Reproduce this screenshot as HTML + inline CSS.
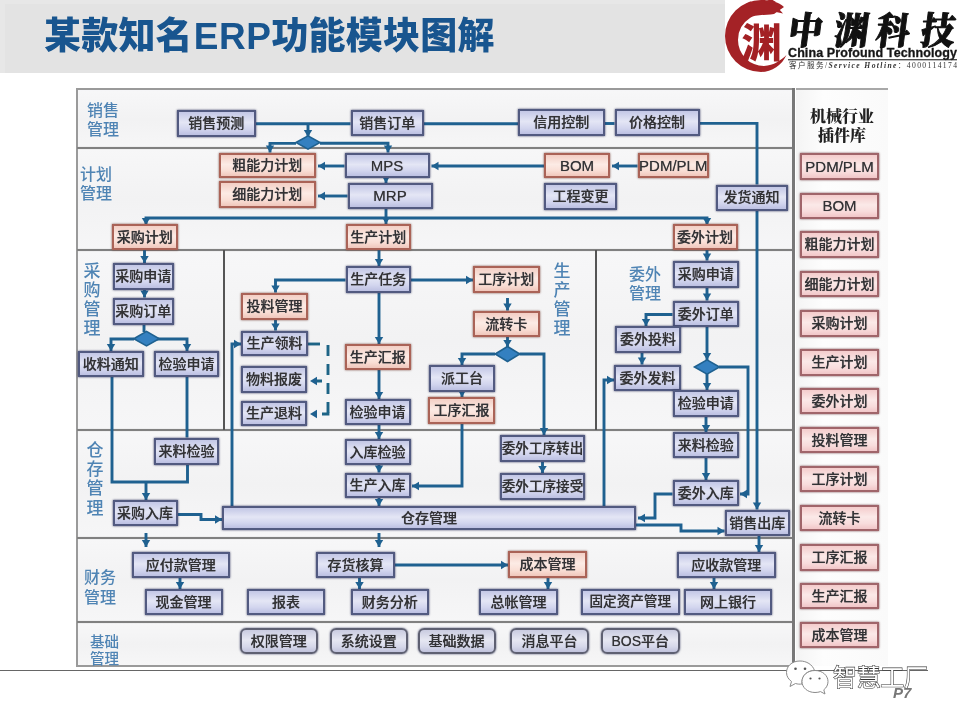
<!DOCTYPE html>
<html lang="zh-CN">
<head>
<meta charset="utf-8">
<title>某款知名ERP功能模块图解</title>
<style>
html,body{margin:0;padding:0;}
body{width:960px;height:720px;position:relative;overflow:hidden;background:#fff;
 font-family:"Liberation Sans","Noto Sans CJK SC",sans-serif;}
.abs{position:absolute;}
#hdr{left:0;top:0;width:724.5px;height:72.5px;background:#e7e7e7;}
#hdr .in{position:absolute;left:5px;top:4px;right:0;bottom:0;background:#e3e3e3;}
#title{left:44px;top:11px;font-size:37px;font-weight:900;color:#18558f;line-height:52px;white-space:nowrap;letter-spacing:0.2px;}
#diagram{filter:blur(0.6px);}
#title,.soft{filter:blur(0.4px);}
#frame{left:76px;top:88.3px;width:719px;height:578.7px;background:#f6f6f8;border:2px solid #9a9a9a;box-sizing:border-box;}
.sec{position:absolute;left:78px;width:715px;background:linear-gradient(#f7f7f8,#f2f2f3 50%,#f6f6f7);}
.hl{position:absolute;left:77px;width:717px;height:2px;background:#808080;box-shadow:0 0 1px #aaa;}
.vl{position:absolute;width:2px;background:#555;}
.lab{position:absolute;font-weight:500;color:#4f84b4;font-size:16px;line-height:19.2px;white-space:nowrap;}
.bx{position:absolute;box-sizing:border-box;display:flex;align-items:center;justify-content:center;
 font-size:14px;font-weight:500;color:#323235;white-space:nowrap;line-height:1;padding-bottom:0.4px;text-shadow:0 0 0.7px rgba(40,40,44,.75);}
.b{border:2.4px solid #525a80;background:linear-gradient(#c3c7e6,#e4e6f5 45%,#d2d5ee 75%,#bcc0e2);box-shadow:0 0 2px rgba(45,50,90,.9);}
.p{border:2.3px solid #aa6357;background:linear-gradient(#f3cfc5,#fcebe5 45%,#f9ded5 75%,#f0c7bc);box-shadow:0 0 2px rgba(110,55,45,.85);}
.q{border:2.3px solid #a0656a;background:linear-gradient(#f4cccc,#fbe9e8 45%,#f8dcdc 75%,#f1c6c8);box-shadow:0 0 2px rgba(105,50,58,.85);}
.r{border-radius:6px;border-color:#5e6072;background:linear-gradient(#c9cbe0,#e6e7f2 45%,#d6d8ea 75%,#c0c2dc);}
.lat{font-size:15px;padding-bottom:0;}
.sm{font-size:13.6px;}
#rp{left:796px;top:88.3px;width:92px;height:577.7px;background:linear-gradient(90deg,#f4f4f4,#fdfdfd 30%,#fafafa);border-top:2px solid #a8a8a8;box-sizing:border-box;}
#rpt{left:796px;top:106.5px;width:92px;text-align:center;font-family:"Liberation Serif","Noto Serif CJK SC",serif;font-weight:900;font-size:16px;line-height:19.5px;color:#222;}
.wires{position:absolute;left:0;top:0;}
#foot{left:0;top:669.5px;width:928px;height:1.3px;background:#666;}
</style>
</head>
<body>
<div id="hdr" class="abs"><div class="in"></div></div>
<div id="title" class="abs">某款知名<span style="letter-spacing:0.5px;margin-left:1px">ERP</span>功能模块图解</div>

<!-- logo -->
<svg class="abs soft" style="left:722px;top:0" width="238" height="76" viewBox="722 0 238 76">
 <g fill="#a42226">
 <path d="M784,7 C779,2 770,0 761,0 A36,36 0 0 0 725,36 A36,36 0 0 0 761,72 C772,72 782,65 786.5,55 C781,60 774,65.6 764,66 A26,26 0 0 1 738,40 A26,26 0 0 1 750,18 C756,14 766,15.5 774,14 Z"/>
 <path d="M741,7.5 L750,1.5 L756,3 L752,7 Z M764,2 L771,-1 L776,2 L772,5 Z M776,12 L783,13.5 L779,9 Z"/>
 </g>
 <text x="741.5" y="57" font-family="'Liberation Sans','Noto Sans CJK SC',sans-serif" font-weight="900" font-size="40" fill="#a32024" textLength="40" lengthAdjust="spacingAndGlyphs">渊</text>
 <g font-family="'Liberation Serif','Noto Serif CJK SC',serif" font-weight="900" font-size="34" fill="#111" stroke="#111" stroke-width="0.9" stroke-linejoin="round" transform="matrix(1,0,-0.14,1.1,0,0)">
  <text x="792.6" y="40">中</text><text x="838.6" y="40">渊</text><text x="880" y="40">科</text><text x="925" y="40">技</text>
 </g>
 <text x="788" y="57" font-family="'Liberation Sans',sans-serif" font-weight="bold" font-size="12.5" fill="#151515" stroke="#151515" stroke-width="0.3" textLength="169" lengthAdjust="spacing">China Profound Technology</text>
 <rect x="788" y="59.2" width="169" height="1.1" fill="#222"/>
 <text x="789" y="68.3" font-family="'Liberation Serif','Noto Sans CJK SC',serif" font-size="7.6" fill="#333" textLength="168" lengthAdjust="spacing">客户服务/<tspan font-style="italic" font-weight="bold">Service Hotline</tspan>：4000114174</text>
</svg>

<div id="diagram">
<div id="frame" class="abs"></div>
<div class="sec" style="top:91px;height:57px"></div>
<div class="sec" style="top:149px;height:100px"></div>
<div class="sec" style="top:251px;height:178px"></div>
<div class="sec" style="top:431px;height:106px"></div>
<div class="sec" style="top:539px;height:82px"></div>
<div class="sec" style="top:623px;height:42px"></div>
<div class="hl" style="top:147px"></div>
<div class="hl" style="top:249px"></div>
<div class="hl" style="top:428.5px"></div>
<div class="hl" style="top:536.5px"></div>
<div class="hl" style="top:621px"></div>
<div class="vl" style="left:223px;top:250px;height:180px"></div>
<div class="vl" style="left:595px;top:250px;height:180px"></div>
<div id="rp" class="abs"></div>
<div class="vl" style="left:792.2px;top:88.3px;height:577px;width:3px;background:#787878"></div>
<div id="rpt" class="abs">机械行业<br>插件库</div>

<div class="lab" style="left:87px;top:100.6px">销售<br>管理</div>
<div class="lab" style="left:80px;top:164.7px">计划<br>管理</div>
<div class="lab" style="left:83.5px;top:261.5px;width:17px;white-space:normal;font-size:17px;line-height:19.3px">采购管理</div>
<div class="lab" style="left:553.5px;top:261.5px;width:17px;white-space:normal;font-size:17px;line-height:19.3px">生产管理</div>
<div class="lab" style="left:629px;top:264.5px">委外<br>管理</div>
<div class="lab" style="left:86.5px;top:440.7px;width:17px;white-space:normal;font-size:17px;line-height:19.3px">仓存管理</div>
<div class="lab" style="left:84px;top:568px;line-height:20px">财务<br>管理</div>
<div class="lab" style="left:90px;top:633.5px;font-size:14.5px;line-height:17.5px">基础<br>管理</div>

<svg class="wires" width="960" height="720" viewBox="0 0 960 720">
<g fill="none" stroke="#1f6190" stroke-width="2.9" stroke-linejoin="miter">
<polyline points="256.0,123.7 350.5,123.7"/>
<polyline points="308.0,123.7 308.0,137.0"/>
<polyline points="296.0,143.4 270.0,143.4 270.0,152.5"/>
<polyline points="320.0,143.2 388.0,143.2 388.0,152.5"/>
<polyline points="424.0,123.8 518.0,123.8"/>
<polyline points="604.5,123.5 614.5,123.5"/>
<polyline points="699.5,123.4 757.0,123.4 757.0,184.5"/>
<polyline points="757.0,210.5 757.0,509.5"/>
<polyline points="344.5,166.0 318.0,166.0"/>
<polyline points="347.5,196.0 318.0,196.0"/>
<polyline points="544.0,166.0 431.5,166.0"/>
<polyline points="637.5,166.0 612.0,166.0"/>
<polyline points="386.0,178.0 386.0,183.0"/>
<polyline points="386.0,208.5 386.0,224.0"/>
<polyline points="146.0,224.0 146.0,218.0 707.0,218.0 707.0,224.0"/>
<polyline points="144.5,249.5 144.5,263.0"/>
<polyline points="144.5,290.0 144.5,297.5"/>
<polyline points="144.0,325.0 144.0,332.0"/>
<polyline points="134.0,339.0 111.0,339.0 111.0,351.0"/>
<polyline points="157.0,339.0 187.0,339.0 187.0,351.0"/>
<polyline points="112.0,377.0 112.0,482.0 187.5,482.0 187.5,464.5"/>
<polyline points="187.0,377.0 187.0,437.5"/>
<polyline points="146.0,482.0 146.0,500.0"/>
<polyline points="177.5,514.5 201.0,514.5 201.0,519.5 222.0,519.5"/>
<polyline points="146.0,533.0 146.0,547.0"/>
<polyline points="180.0,577.5 180.0,589.0"/>
<polyline points="379.0,249.5 379.0,266.0"/>
<polyline points="345.5,280.0 275.5,280.0 275.5,292.5"/>
<polyline points="275.5,319.5 275.5,330.5"/>
<polyline points="232.0,506.0 232.0,344.0 241.0,344.0"/>
<polyline points="379.0,293.0 379.0,344.0"/>
<polyline points="379.0,370.0 379.0,399.0"/>
<polyline points="379.0,425.0 379.0,439.0"/>
<polyline points="379.0,465.0 379.0,472.5"/>
<polyline points="379.0,498.0 379.0,506.0"/>
<polyline points="411.0,280.0 473.0,280.0"/>
<polyline points="507.5,298.0 507.5,310.5"/>
<polyline points="507.5,337.0 507.5,347.0"/>
<polyline points="495.0,354.0 462.0,354.0 462.0,365.0"/>
<polyline points="519.5,354.0 544.0,354.0 544.0,435.0"/>
<polyline points="462.0,392.0 462.0,397.0"/>
<polyline points="462.0,424.0 462.0,486.0 412.0,486.0"/>
<polyline points="542.5,462.0 542.5,473.0"/>
<polyline points="604.0,506.0 604.0,380.0 614.0,380.0"/>
<polyline points="707.0,249.5 707.0,260.5"/>
<polyline points="707.0,287.5 707.0,300.5"/>
<polyline points="672.5,314.5 646.0,314.5 646.0,326.0"/>
<polyline points="642.0,353.0 642.0,364.5"/>
<polyline points="707.0,327.0 707.0,360.0"/>
<polyline points="707.0,374.0 707.0,390.0"/>
<polyline points="719.0,367.0 748.0,367.0 748.0,494.0 740.0,494.0"/>
<polyline points="706.0,417.0 706.0,432.0"/>
<polyline points="706.0,458.0 706.0,480.0"/>
<polyline points="672.5,494.0 655.0,494.0 655.0,518.0 638.0,518.0"/>
<polyline points="636.0,525.0 681.0,525.0 681.0,531.0 724.5,531.0"/>
<polyline points="759.0,536.0 759.0,552.0"/>
<polyline points="714.0,577.5 714.0,589.0"/>
<polyline points="379.0,533.0 379.0,547.0"/>
<polyline points="395.0,565.0 508.0,565.0"/>
<polyline points="359.5,577.5 359.5,589.0"/>
<polyline points="548.0,577.5 548.0,589.0"/>
<path d="M308,344 H320" stroke="#1d6486"/>
<path d="M328,345 V415.4" stroke="#1d6486" stroke-dasharray="11,8"/>
<path d="M322,381 H315 M329.4,414 H322" stroke="#1d6486"/>
</g>
<g fill="#1f6190">
<polygon points="308.0,137.0 303.8,130.0 312.2,130.0"/>
<polygon points="270.0,152.5 265.8,145.5 274.2,145.5"/>
<polygon points="388.0,152.5 383.8,145.5 392.2,145.5"/>
<polygon points="757.0,509.5 752.8,502.5 761.2,502.5"/>
<polygon points="318.0,166.0 325.0,161.8 325.0,170.2"/>
<polygon points="318.0,196.0 325.0,191.8 325.0,200.2"/>
<polygon points="431.5,166.0 438.5,161.8 438.5,170.2"/>
<polygon points="612.0,166.0 619.0,161.8 619.0,170.2"/>
<polygon points="386.0,183.0 381.8,176.0 390.2,176.0"/>
<polygon points="386.0,224.0 381.8,217.0 390.2,217.0"/>
<polygon points="146.0,225.0 141.8,218.0 150.2,218.0"/>
<polygon points="707.0,225.0 702.8,218.0 711.2,218.0"/>
<polygon points="144.5,263.0 140.3,256.0 148.7,256.0"/>
<polygon points="144.5,297.5 140.3,290.5 148.7,290.5"/>
<polygon points="111.0,351.0 106.8,344.0 115.2,344.0"/>
<polygon points="187.0,351.0 182.8,344.0 191.2,344.0"/>
<polygon points="146.0,500.0 141.8,493.0 150.2,493.0"/>
<polygon points="222.0,519.5 215.0,515.3 215.0,523.7"/>
<polygon points="146.0,547.0 141.8,540.0 150.2,540.0"/>
<polygon points="180.0,589.0 175.8,582.0 184.2,582.0"/>
<polygon points="379.0,266.0 374.8,259.0 383.2,259.0"/>
<polygon points="275.5,292.5 271.3,285.5 279.7,285.5"/>
<polygon points="275.5,330.5 271.3,323.5 279.7,323.5"/>
<polygon points="241.0,344.0 234.0,339.8 234.0,348.2"/>
<polygon points="379.0,344.0 374.8,337.0 383.2,337.0"/>
<polygon points="379.0,399.0 374.8,392.0 383.2,392.0"/>
<polygon points="379.0,439.0 374.8,432.0 383.2,432.0"/>
<polygon points="379.0,472.5 374.8,465.5 383.2,465.5"/>
<polygon points="379.0,506.0 374.8,499.0 383.2,499.0"/>
<polygon points="473.0,280.0 466.0,275.8 466.0,284.2"/>
<polygon points="507.5,310.5 503.3,303.5 511.7,303.5"/>
<polygon points="507.5,347.0 503.3,340.0 511.7,340.0"/>
<polygon points="462.0,365.0 457.8,358.0 466.2,358.0"/>
<polygon points="544.0,435.0 539.8,428.0 548.2,428.0"/>
<polygon points="462.0,397.0 457.8,390.0 466.2,390.0"/>
<polygon points="412.0,486.0 419.0,481.8 419.0,490.2"/>
<polygon points="542.5,473.0 538.3,466.0 546.7,466.0"/>
<polygon points="614.0,380.0 607.0,375.8 607.0,384.2"/>
<polygon points="707.0,260.5 702.8,253.5 711.2,253.5"/>
<polygon points="707.0,300.5 702.8,293.5 711.2,293.5"/>
<polygon points="646.0,326.0 641.8,319.0 650.2,319.0"/>
<polygon points="642.0,364.5 637.8,357.5 646.2,357.5"/>
<polygon points="707.0,360.0 702.8,353.0 711.2,353.0"/>
<polygon points="707.0,390.0 702.8,383.0 711.2,383.0"/>
<polygon points="740.0,494.0 747.0,489.8 747.0,498.2"/>
<polygon points="706.0,432.0 701.8,425.0 710.2,425.0"/>
<polygon points="706.0,480.0 701.8,473.0 710.2,473.0"/>
<polygon points="638.0,518.0 645.0,513.8 645.0,522.2"/>
<polygon points="724.5,531.0 717.5,526.8 717.5,535.2"/>
<polygon points="759.0,552.0 754.8,545.0 763.2,545.0"/>
<polygon points="714.0,589.0 709.8,582.0 718.2,582.0"/>
<polygon points="379.0,547.0 374.8,540.0 383.2,540.0"/>
<polygon points="508.0,565.0 501.0,560.8 501.0,569.2"/>
<polygon points="359.5,589.0 355.3,582.0 363.7,582.0"/>
<polygon points="548.0,589.0 543.8,582.0 552.2,582.0"/>
<polygon points="310.0,381.0 317.0,376.8 317.0,385.2"/>
<polygon points="310.0,414.0 317.0,409.8 317.0,418.2"/>
<polygon fill="#3480c0" stroke="#1f6190" stroke-width="1.6" points="296.0,142.5 308.0,135.8 320.0,142.5 308.0,149.2"/>
<polygon fill="#3480c0" stroke="#1f6190" stroke-width="1.6" points="133.8,338.7 146.5,331.4 159.2,338.7 146.5,345.9"/>
<polygon fill="#3480c0" stroke="#1f6190" stroke-width="1.6" points="495.2,354.0 507.5,346.5 519.8,354.0 507.5,361.5"/>
<polygon fill="#3480c0" stroke="#1f6190" stroke-width="1.6" points="694.5,367.0 707.0,359.8 719.5,367.0 707.0,374.2"/>
</g></svg>
<div class="bx b" style="left:176.5px;top:109.5px;width:79.5px;height:27.0px">销售预测</div>
<div class="bx b" style="left:350.5px;top:109.5px;width:73.5px;height:26.5px">销售订单</div>
<div class="bx b" style="left:518.0px;top:109.0px;width:86.5px;height:26.5px">信用控制</div>
<div class="bx b" style="left:614.5px;top:109.0px;width:85.0px;height:26.5px">价格控制</div>
<div class="bx p" style="left:218.5px;top:152.5px;width:97.5px;height:25.5px">粗能力计划</div>
<div class="bx p" style="left:218.5px;top:181.0px;width:97.5px;height:27.0px">细能力计划</div>
<div class="bx b lat" style="left:344.5px;top:152.5px;width:85.0px;height:25.5px">MPS</div>
<div class="bx b lat" style="left:347.5px;top:182.5px;width:85.0px;height:26.0px">MRP</div>
<div class="bx p lat" style="left:544.0px;top:152.5px;width:66.0px;height:25.5px">BOM</div>
<div class="bx p lat" style="left:637.5px;top:152.5px;width:71.5px;height:25.5px">PDM/PLM</div>
<div class="bx b" style="left:544.0px;top:183.0px;width:73.0px;height:26.5px">工程变更</div>
<div class="bx b" style="left:715.5px;top:184.5px;width:72.0px;height:26.0px">发货通知</div>
<div class="bx p" style="left:112.0px;top:224.0px;width:65.5px;height:25.5px">采购计划</div>
<div class="bx p" style="left:345.5px;top:224.0px;width:65.5px;height:25.5px">生产计划</div>
<div class="bx p" style="left:672.5px;top:224.0px;width:65.0px;height:25.5px">委外计划</div>
<div class="bx b" style="left:112.5px;top:263.0px;width:61.5px;height:27.0px">采购申请</div>
<div class="bx b" style="left:112.5px;top:297.5px;width:61.5px;height:27.5px">采购订单</div>
<div class="bx b" style="left:77.5px;top:351.0px;width:66.5px;height:26.0px">收料通知</div>
<div class="bx b" style="left:154.0px;top:351.0px;width:65.0px;height:26.0px">检验申请</div>
<div class="bx b" style="left:345.5px;top:266.0px;width:65.5px;height:27.0px">生产任务</div>
<div class="bx p" style="left:241.0px;top:292.5px;width:67.0px;height:27.0px">投料管理</div>
<div class="bx b" style="left:241.0px;top:330.5px;width:67.0px;height:25.5px">生产领料</div>
<div class="bx b" style="left:241.0px;top:366.0px;width:66.0px;height:27.0px">物料报废</div>
<div class="bx b" style="left:241.0px;top:400.5px;width:66.0px;height:25.5px">生产退料</div>
<div class="bx p" style="left:344.5px;top:344.0px;width:66.5px;height:26.0px">生产汇报</div>
<div class="bx b" style="left:344.5px;top:399.0px;width:66.0px;height:26.0px">检验申请</div>
<div class="bx p" style="left:473.0px;top:266.0px;width:66.5px;height:27.0px">工序计划</div>
<div class="bx p" style="left:473.0px;top:310.5px;width:66.5px;height:26.5px">流转卡</div>
<div class="bx b" style="left:429.0px;top:365.0px;width:66.0px;height:27.0px">派工台</div>
<div class="bx p" style="left:428.0px;top:397.0px;width:67.0px;height:27.0px">工序汇报</div>
<div class="bx b" style="left:672.5px;top:260.5px;width:66.5px;height:27.0px">采购申请</div>
<div class="bx b" style="left:672.5px;top:300.5px;width:66.5px;height:26.5px">委外订单</div>
<div class="bx b" style="left:615.0px;top:326.0px;width:66.0px;height:27.0px">委外投料</div>
<div class="bx b" style="left:614.0px;top:364.5px;width:67.0px;height:26.5px">委外发料</div>
<div class="bx b" style="left:672.5px;top:390.0px;width:66.5px;height:27.0px">检验申请</div>
<div class="bx b" style="left:154.0px;top:437.5px;width:65.0px;height:27.0px">来料检验</div>
<div class="bx b" style="left:112.5px;top:500.0px;width:65.0px;height:26.0px">采购入库</div>
<div class="bx b" style="left:344.5px;top:439.0px;width:66.0px;height:26.0px">入库检验</div>
<div class="bx b" style="left:344.5px;top:472.5px;width:66.0px;height:25.5px">生产入库</div>
<div class="bx b sm" style="left:500.0px;top:435.0px;width:85.0px;height:27.0px">委外工序转出</div>
<div class="bx b sm" style="left:500.0px;top:473.0px;width:85.0px;height:27.0px">委外工序接受</div>
<div class="bx b" style="left:672.5px;top:432.0px;width:66.5px;height:26.0px">来料检验</div>
<div class="bx b" style="left:672.5px;top:480.0px;width:66.5px;height:26.0px">委外入库</div>
<div class="bx b" style="left:222.0px;top:506.0px;width:414.0px;height:23.5px">仓存管理</div>
<div class="bx b" style="left:724.5px;top:509.5px;width:65.5px;height:26.5px">销售出库</div>
<div class="bx b" style="left:132.0px;top:552.0px;width:97.5px;height:25.5px">应付款管理</div>
<div class="bx b" style="left:144.5px;top:589.0px;width:78.0px;height:26.0px">现金管理</div>
<div class="bx b" style="left:247.0px;top:589.0px;width:78.0px;height:26.0px">报表</div>
<div class="bx b" style="left:316.0px;top:552.0px;width:79.0px;height:25.5px">存货核算</div>
<div class="bx b" style="left:350.5px;top:589.0px;width:78.5px;height:26.0px">财务分析</div>
<div class="bx p" style="left:508.0px;top:551.0px;width:79.0px;height:26.5px">成本管理</div>
<div class="bx b" style="left:479.0px;top:589.0px;width:79.0px;height:26.0px">总帐管理</div>
<div class="bx b sm" style="left:581.0px;top:589.0px;width:98.5px;height:26.0px">固定资产管理</div>
<div class="bx b" style="left:677.0px;top:552.0px;width:98.5px;height:25.5px">应收款管理</div>
<div class="bx b" style="left:684.0px;top:589.0px;width:88.0px;height:26.0px">网上银行</div>
<div class="bx b r" style="left:239.5px;top:628.0px;width:78.5px;height:26.0px">权限管理</div>
<div class="bx b r" style="left:329.5px;top:628.0px;width:78.5px;height:26.0px">系统设置</div>
<div class="bx b r" style="left:417.5px;top:628.0px;width:78.0px;height:26.0px">基础数据</div>
<div class="bx b r" style="left:510.0px;top:628.0px;width:79.0px;height:26.0px">消息平台</div>
<div class="bx b r" style="left:601.0px;top:628.0px;width:78.5px;height:26.0px">BOS平台</div>
<div class="bx q lat" style="left:800.0px;top:153.0px;width:79.0px;height:26.5px">PDM/PLM</div>
<div class="bx q lat" style="left:800.0px;top:192.5px;width:79.0px;height:26.5px">BOM</div>
<div class="bx q" style="left:800.0px;top:231.0px;width:79.0px;height:26.5px">粗能力计划</div>
<div class="bx q" style="left:800.0px;top:270.7px;width:79.0px;height:26.5px">细能力计划</div>
<div class="bx q" style="left:800.0px;top:310.0px;width:79.0px;height:26.5px">采购计划</div>
<div class="bx q" style="left:800.0px;top:349.0px;width:79.0px;height:26.5px">生产计划</div>
<div class="bx q" style="left:800.0px;top:387.7px;width:79.0px;height:26.5px">委外计划</div>
<div class="bx q" style="left:800.0px;top:426.5px;width:79.0px;height:26.5px">投料管理</div>
<div class="bx q" style="left:800.0px;top:465.5px;width:79.0px;height:26.5px">工序计划</div>
<div class="bx q" style="left:800.0px;top:504.5px;width:79.0px;height:26.5px">流转卡</div>
<div class="bx q" style="left:800.0px;top:544.0px;width:79.0px;height:26.5px">工序汇报</div>
<div class="bx q" style="left:800.0px;top:582.5px;width:79.0px;height:26.5px">生产汇报</div>
<div class="bx q" style="left:800.0px;top:621.7px;width:79.0px;height:26.5px">成本管理</div>
</div>

<div id="foot" class="abs"></div>
<!-- watermark -->
<svg class="abs soft" style="left:780px;top:655px" width="160" height="50" viewBox="780 655 160 50">
 <g fill="#fff" stroke="#8a8a8a" stroke-width="1">
  <path d="M800,661 C791.5,661 786.5,666.5 786.5,672.5 C786.5,676.5 788.8,679.5 791.5,681.5 L790,686.5 L795.5,683.5 C797.5,684.2 800,684.3 802,684 C801,676 807,670.5 814.5,670.5 C812.5,664.5 806.5,661 800,661 Z"/>
  <path d="M815,670.5 C807.5,670.5 802,675.5 802,681.5 C802,687.5 807.5,692.5 815,692.5 C817,692.5 818.8,692.2 820.5,691.6 L825,694 L823.8,689.8 C826.5,687.8 828,684.8 828,681.5 C828,675.5 822.5,670.5 815,670.5 Z"/>
 </g>
 <g fill="#555"><circle cx="795.5" cy="668.8" r="1.3"/><circle cx="805" cy="668.8" r="1.3"/><circle cx="810.5" cy="678.5" r="1.1"/><circle cx="819.5" cy="678.5" r="1.1"/></g>
 <text x="833" y="686" font-family="'Liberation Sans','Noto Sans CJK SC',sans-serif" font-size="24" fill="#fff" stroke="#333" stroke-width="1.1" paint-order="stroke" textLength="95" lengthAdjust="spacing">智慧工厂</text>
 <text x="893" y="698" font-family="'Liberation Sans',sans-serif" font-size="15" font-weight="bold" font-style="italic" fill="#777">P7</text>
</svg>
</body>
</html>
